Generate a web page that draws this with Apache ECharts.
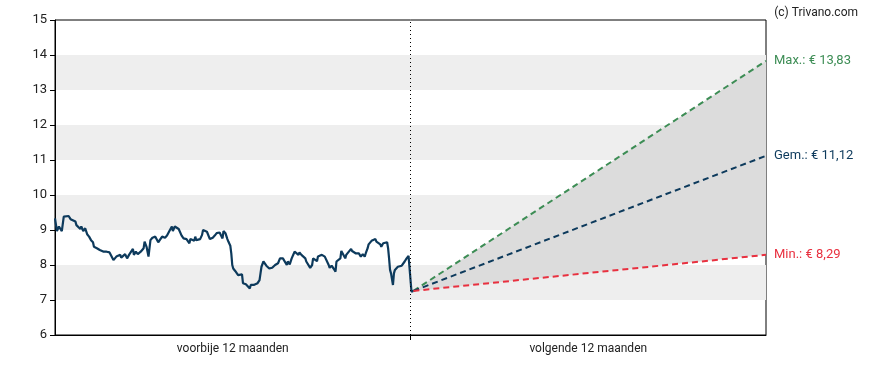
<!DOCTYPE html>
<html>
<head>
<meta charset="utf-8">
<script src="https://cdn.jsdelivr.net/npm/echarts@6/dist/echarts.min.js"></script>
<style>html,body{margin:0;padding:0;background:#fff}#c{width:888px;height:370px}</style>
</head>
<body>
<div id="c"></div>
<script>
// ---- data ----
const periodLabels = ['voorbije 12 maanden', 'volgende 12 maanden'];
const yTicks = [6, 7, 8, 9, 10, 11, 12, 13, 14, 15];
// days relative to today (negative = past)
const priceDays = [-365,-363,-361,-358,-356,-354,-351,-349,-347,-344,-343,-341,-339,-338,-336,-334,-332,-330,-328,-326,-325,-322,-320,-319,-317,-315,-314,-312,-309,-307,-305,-303,-302,-300,-298,-297,-295,-293,-291,-289,-287,-285,-284,-282,-280,-277,-274,-273,-271,-269,-268,-267,-265,-262,-260,-259,-257,-255,-254,-252,-250,-249,-247,-245,-244,-242,-240,-238,-237,-235,-233,-232,-230,-228,-227,-226,-224,-222,-221,-220,-218,-216,-214,-213,-211,-209,-208,-206,-204,-203,-201,-199,-197,-196,-194,-193,-192,-190,-188,-187,-185,-184,-183,-182,-180,-178,-177,-175,-173,-172,-171,-169,-168,-167,-165,-164,-162,-161,-159,-157,-155,-154,-153,-151,-150,-148,-147,-145,-144,-142,-139,-137,-136,-134,-132,-131,-129,-127,-126,-124,-122,-120,-119,-117,-115,-114,-112,-110,-108,-107,-105,-103,-101,-100,-98,-96,-95,-93,-91,-90,-88,-86,-84,-83,-81,-79,-78,-77,-76,-74,-72,-71,-69,-67,-66,-64,-61,-60,-58,-56,-55,-53,-51,-49,-47,-46,-44,-43,-42,-40,-38,-36,-35,-33,-31,-30,-28,-26,-24,-23,-22,-21,-20,-19,-18,-17,-16,-14,-13,-11,-9,-7,-6,-4,-2,-1,1,3];
const priceValues = [9.33,8.97,9.10,8.97,9.38,9.33,9.40,9.31,9.35,9.24,9.14,9.16,9.03,9.10,8.97,9.05,8.88,8.81,8.71,8.65,8.52,8.48,8.52,8.43,8.48,8.38,8.43,8.38,8.36,8.33,8.14,8.19,8.24,8.21,8.29,8.21,8.19,8.31,8.19,8.29,8.24,8.46,8.29,8.38,8.31,8.38,8.48,8.67,8.52,8.24,8.19,8.71,8.78,8.81,8.76,8.65,8.67,8.81,8.86,8.78,8.84,8.86,9.00,9.10,8.97,9.10,9.14,9.03,9.00,8.84,8.76,8.78,8.74,8.71,8.62,8.74,8.71,8.69,8.81,8.71,8.74,8.74,8.86,9.00,9.00,8.95,8.91,8.74,8.76,8.78,8.84,8.91,8.93,8.93,8.93,8.76,8.97,8.91,8.74,8.67,8.55,8.33,8.00,7.90,7.83,7.81,7.71,7.76,7.73,7.48,7.52,7.45,7.48,7.43,7.33,7.43,7.38,7.43,7.43,7.48,7.57,7.76,7.95,8.10,8.11,7.98,7.95,7.90,7.95,7.92,8.00,8.02,8.05,8.19,8.24,8.19,8.14,8.00,8.10,8.02,8.19,8.24,8.38,8.33,8.29,8.36,8.29,8.24,8.19,8.10,8.14,7.92,8.00,8.19,8.21,8.11,8.24,8.25,8.29,8.33,8.24,8.19,8.00,7.92,7.98,7.90,7.95,7.81,8.10,8.14,8.19,8.40,8.43,8.19,8.29,8.33,8.46,8.40,8.38,8.33,8.29,8.33,8.24,8.31,8.24,8.33,8.48,8.59,8.62,8.69,8.71,8.74,8.67,8.65,8.59,8.52,8.62,8.59,8.65,8.48,8.19,7.86,7.76,7.81,7.43,7.76,7.86,7.90,7.95,7.95,7.98,8.02,8.10,8.19,8.26,8.29,7.24,7.26];
const forecastDays = [3, 365];
const forecastMax = [7.26, 13.83];
const forecastGem = [7.26, 11.12];
const forecastMin = [7.26, 8.29];
const forecastNames = ['Max.', 'Gem.', 'Min.'];
const copyright = '(c) Trivano.com';

// ---- chart ----
const pair = (xs, ys) => xs.map((x, i) => [x, ys[i]]);
const fmtEuro = v => '€ ' + v.toFixed(2).replace('.', ',');
const FONT = 'Roboto';
const chart = echarts.init(document.getElementById('c'), null, { renderer: 'canvas' });

function forecastLine(name, values, color, z) {
  return {
    type: 'line', name: name, data: pair(forecastDays, values),
    symbol: 'none', z: z, silent: true,
    lineStyle: { color: color, width: 2, type: [6, 4] },
    endLabel: {
      show: true, distance: 8, color: color, fontFamily: FONT, fontSize: 13,
      formatter: p => name + ': ' + fmtEuro(p.value[1])
    }
  };
}

chart.setOption({
  animation: false,
  title: {
    text: copyright, right: 25, top: 2,
    textStyle: { fontFamily: FONT, fontSize: 12, fontWeight: 'normal', color: '#222' }
  },
  grid: { left: 55, right: 122, top: 20, bottom: 35, show: true, borderColor: '#000', borderWidth: 1, backgroundColor: 'transparent' },
  xAxis: {
    type: 'value', min: -365, max: 365,
    axisLine: { show: true, onZero: false, lineStyle: { color: '#000', width: 1 } },
    axisTick: { show: true, customValues: [0], length: 5, lineStyle: { color: '#000' } },
    axisLabel: {
      show: true, customValues: [-182.5, 182.5], margin: 8,
      fontFamily: FONT, fontSize: 12, color: '#222',
      formatter: v => (v < 0 ? periodLabels[0] : periodLabels[1])
    },
    splitLine: { show: false }
  },
  yAxis: {
    type: 'value', min: yTicks[0], max: yTicks[yTicks.length - 1], interval: 1,
    axisLine: { show: true, onZero: false, lineStyle: { color: '#000', width: 1 } },
    axisTick: { show: true, length: 5, lineStyle: { color: '#000' } },
    axisLabel: { margin: 8, fontFamily: FONT, fontSize: 13, color: '#222' },
    splitLine: { show: false },
    splitArea: { show: true, areaStyle: { color: ['rgba(255,255,255,0)', '#eeeeee'] } }
  },
  series: [
    {
      type: 'custom', z: 1, silent: true,
      data: [[forecastDays[0], forecastMax[0]]],
      renderItem: function (params, api) {
        const pts = [];
        for (let i = 0; i < forecastDays.length; i++) pts.push(api.coord([forecastDays[i], forecastMax[i]]));
        for (let i = forecastDays.length - 1; i >= 0; i--) pts.push(api.coord([forecastDays[i], forecastMin[i]]));
        return { type: 'polygon', shape: { points: pts }, style: { fill: '#dcdcdc' } };
      }
    },
    {
      type: 'line', name: 'koers', data: pair(priceDays, priceValues),
      symbol: 'none', z: 3, silent: true,
      lineStyle: { color: '#0d3a5c', width: 2.2 },
      markLine: {
        silent: true, symbol: 'none', label: { show: false },
        lineStyle: { color: '#000', type: [1, 3], width: 1 },
        data: [{ xAxis: 0 }]
      }
    },
    forecastLine(forecastNames[0], forecastMax, '#3d8d55', 4),
    forecastLine(forecastNames[1], forecastGem, '#0d3a5c', 4),
    forecastLine(forecastNames[2], forecastMin, '#e8303f', 4)
  ]
});
</script>
</body>
</html>
